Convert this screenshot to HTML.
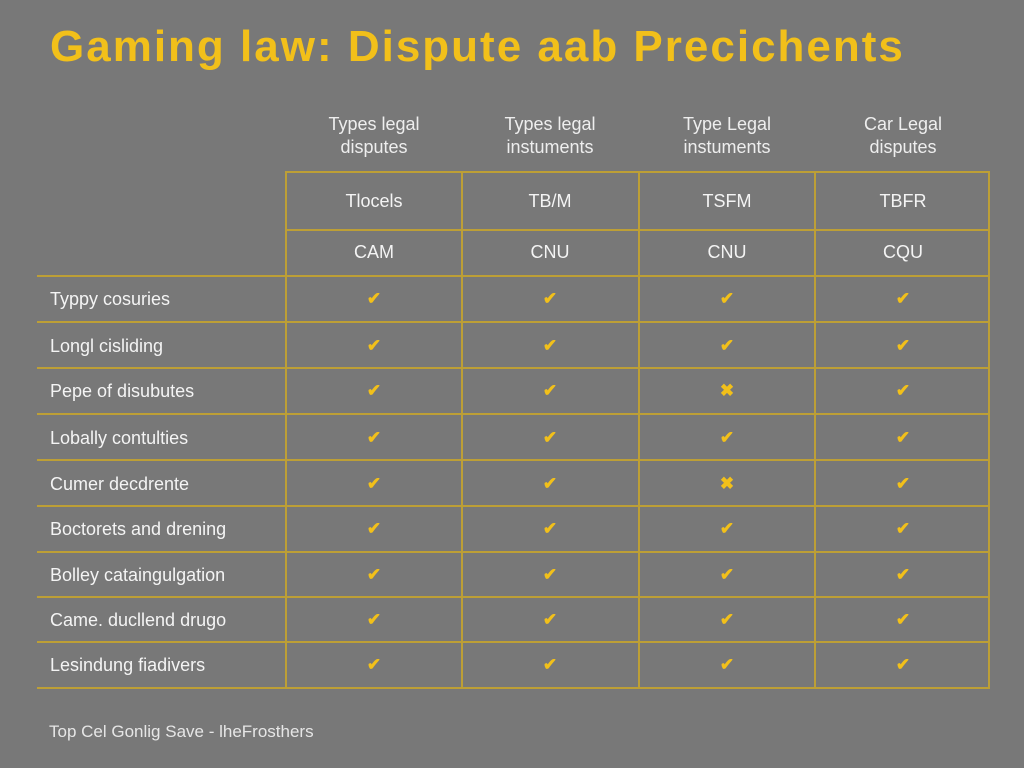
<!DOCTYPE html>
<html><head><style>
body{margin:0;width:1024px;height:768px;background:#787878;font-family:"Liberation Sans",sans-serif;position:relative;overflow:hidden}
.t{position:absolute;white-space:nowrap}
.title{left:50px;top:22px;font-size:44px;font-weight:bold;color:#f2c01a;letter-spacing:2px}
.h{color:#eee;font-size:18px;text-align:center;width:176px;line-height:23px}
.c{color:#f4f4f4;font-size:18px;text-align:center;width:176px}
.r{color:#f4f4f4;font-size:18px;left:50px}
.hl{position:absolute;height:2px;background:#bd9f36}
.vl{position:absolute;width:2px;background:#bd9f36}
.m{position:absolute;color:#f2c01a;font-size:17px;font-weight:bold;width:176px;text-align:center}
</style></head><body>
<div class="t title">Gaming law: Dispute aab Precichents</div>
<div class="t h" style="left:286px;top:113px">Types legal<br>disputes</div>
<div class="t h" style="left:462px;top:113px">Types legal<br>instuments</div>
<div class="t h" style="left:639px;top:113px">Type Legal<br>instuments</div>
<div class="t h" style="left:815px;top:113px">Car Legal<br>disputes</div>
<div class="t c" style="left:286px;top:191px">Tlocels</div>
<div class="t c" style="left:462px;top:191px">TB/M</div>
<div class="t c" style="left:639px;top:191px">TSFM</div>
<div class="t c" style="left:815px;top:191px">TBFR</div>
<div class="t c" style="left:286px;top:242px">CAM</div>
<div class="t c" style="left:462px;top:242px">CNU</div>
<div class="t c" style="left:639px;top:242px">CNU</div>
<div class="t c" style="left:815px;top:242px">CQU</div>
<div class="hl" style="left:286px;width:704px;top:171px"></div>
<div class="hl" style="left:286px;width:704px;top:229px"></div>
<div class="hl" style="left:37px;width:953px;top:275px"></div>
<div class="hl" style="left:37px;width:953px;top:321px"></div>
<div class="hl" style="left:37px;width:953px;top:367px"></div>
<div class="hl" style="left:37px;width:953px;top:413px"></div>
<div class="hl" style="left:37px;width:953px;top:459px"></div>
<div class="hl" style="left:37px;width:953px;top:505px"></div>
<div class="hl" style="left:37px;width:953px;top:551px"></div>
<div class="hl" style="left:37px;width:953px;top:596px"></div>
<div class="hl" style="left:37px;width:953px;top:641px"></div>
<div class="hl" style="left:37px;width:953px;top:687px"></div>
<div class="vl" style="left:285px;top:171px;height:518px"></div>
<div class="vl" style="left:461px;top:171px;height:518px"></div>
<div class="vl" style="left:638px;top:171px;height:518px"></div>
<div class="vl" style="left:814px;top:171px;height:518px"></div>
<div class="vl" style="left:988px;top:171px;height:518px"></div>
<div class="t r" style="top:289px">Typpy cosuries</div>
<div class="t r" style="top:336px">Longl cisliding</div>
<div class="t r" style="top:381px">Pepe of disubutes</div>
<div class="t r" style="top:428px">Lobally contulties</div>
<div class="t r" style="top:474px">Cumer decdrente</div>
<div class="t r" style="top:519px">Boctorets and drening</div>
<div class="t r" style="top:565px">Bolley cataingulgation</div>
<div class="t r" style="top:610px">Came. ducllend drugo</div>
<div class="t r" style="top:655px">Lesindung fiadivers</div>
<div id="marks"></div>
<div class="t" style="left:49px;top:722px;font-size:17px;color:#e6e6e6">Top Cel Gonlig Save - lheFrosthers</div>
<script>
var ys=[299,346,391,438,484,529,575,620,665],xs=[286,462,639,815],h='';
ys.forEach(function(y,i){xs.forEach(function(x,j){var cross=(j==2&&(i==2||i==4));h+='<div class="m" style="left:'+x+'px;top:'+(y-10)+'px">'+(cross?'✖':'✔')+'</div>';});});
document.getElementById('marks').innerHTML=h;
</script>
</body></html>
